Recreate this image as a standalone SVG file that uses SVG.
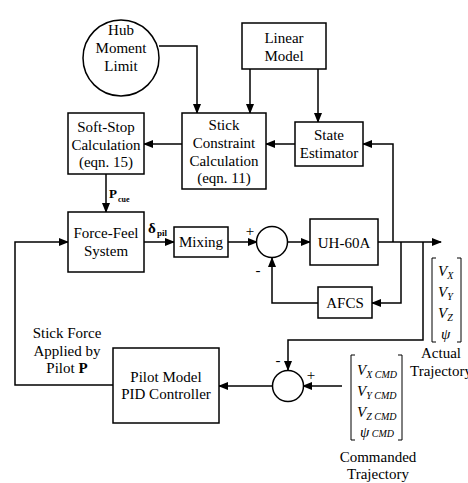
<svg xmlns="http://www.w3.org/2000/svg" width="468" height="483" viewBox="0 0 468 483" font-family="Liberation Serif, Times New Roman, serif" font-size="15">
<defs>
<marker id="ah" markerWidth="10" markerHeight="8" refX="9" refY="4" orient="auto" markerUnits="userSpaceOnUse">
<path d="M0,0 L10,4 L0,8 Z" fill="#000"/>
</marker>
<style>
.box{fill:#fff;stroke:#000;stroke-width:1.5}
.t{text-anchor:middle}
.v{font-style:italic}
.s{font-size:10px}
.ca{fill:none;stroke:#000;stroke-width:1.5;marker-end:url(#ah)}
.br{fill:none;stroke:#000;stroke-width:1}
.b{font-weight:bold}
</style>
</defs>
<rect width="468" height="483" fill="#fff"/>
<g id="connectors">
<path class="ca" d="M159,46 H197 V113"/>
<path class="ca" d="M250,69 V113"/>
<path class="ca" d="M318,69 V122"/>
<path class="ca" d="M182,144 H144"/>
<path class="ca" d="M295,144 H266"/>
<path class="ca" d="M393,242 V144 H363"/>
<path class="ca" d="M106,174 V212"/>
<path class="ca" d="M144,242 H174"/>
<path class="ca" d="M228,242 H257"/>
<path class="ca" d="M288,242 H310"/>
<path class="ca" d="M378,242 H441"/>
<path class="ca" d="M401,242 V303 H372"/>
<path class="ca" d="M318,303 H272 V258"/>
<path class="ca" d="M423,242 V340 H288 V370"/>
<path class="ca" d="M342,386 H303"/>
<path class="ca" d="M272,386 H219"/>
<path class="ca" d="M113,385 H15 V242 H68"/>
</g>
<g id="hub">
<circle cx="121" cy="58" r="38" class="box"/>
<text class="t" x="121" y="35">Hub</text>
<text class="t" x="121" y="53">Moment</text>
<text class="t" x="121" y="71">Limit</text>
</g>
<g id="linear-model">
<rect class="box" x="242" y="23" width="84" height="46"/>
<text class="t" x="284" y="43">Linear</text>
<text class="t" x="284" y="61">Model</text>
</g>
<g id="soft-stop">
<rect class="box" x="68" y="113" width="76" height="61"/>
<text class="t" x="106" y="132">Soft-Stop</text>
<text class="t" x="106" y="150">Calculation</text>
<text class="t" x="106" y="167">(eqn. 15)</text>
</g>
<g id="stick-constraint">
<rect class="box" x="182" y="113" width="84" height="76"/>
<text class="t" x="224" y="130">Stick</text>
<text class="t" x="224" y="148">Constraint</text>
<text class="t" x="224" y="166">Calculation</text>
<text class="t" x="224" y="183">(eqn. 11)</text>
</g>
<g id="state-estimator">
<rect class="box" x="295" y="122" width="68" height="44"/>
<text class="t" x="329" y="140">State</text>
<text class="t" x="329" y="158">Estimator</text>
</g>
<g id="pcue-label">
<text class="b" x="109" y="198" font-size="13">P</text>
<text class="b" x="118" y="202" font-size="8">cue</text>
</g>
<g id="force-feel">
<rect class="box" x="68" y="212" width="76" height="60"/>
<text class="t" x="106" y="238">Force-Feel</text>
<text class="t" x="106" y="256">System</text>
</g>
<g id="delta-label">
<text class="b" x="148" y="233" font-size="15">δ</text>
<text class="b" x="157" y="236" font-size="9">pil</text>
</g>
<g id="mixing">
<rect class="box" x="174" y="227" width="54" height="30"/>
<text class="t" x="201" y="247">Mixing</text>
</g>
<g id="sum1">
<circle class="box" cx="272" cy="242" r="15.5"/>
<text class="t" x="250" y="236">+</text>
<text class="t" x="258" y="275">-</text>
</g>
<g id="uh60a">
<rect class="box" x="310" y="219" width="68" height="46"/>
<text class="t" x="344" y="248">UH-60A</text>
</g>
<g id="afcs">
<rect class="box" x="318" y="287" width="54" height="31"/>
<text class="t" x="345" y="308">AFCS</text>
</g>
<g id="actual-trajectory">
<path class="br" d="M436,258 H432 V342 H436 M457,258 H461 V342 H457"/>
<text class="v" x="438" y="276">V<tspan class="s" dy="3">X</tspan></text>
<text class="v" x="438" y="297">V<tspan class="s" dy="3">Y</tspan></text>
<text class="v" x="438" y="318">V<tspan class="s" dy="3">Z</tspan></text>
<text class="v" x="441" y="339">ψ</text>
<text class="t" x="441" y="358">Actual</text>
<text class="t" x="441" y="376">Trajectory</text>
</g>
<g id="sum2">
<circle class="box" cx="288" cy="386" r="15.5"/>
<text class="t" x="278" y="365">-</text>
<text class="t" x="311" y="380">+</text>
</g>
<g id="commanded-trajectory">
<path class="br" d="M355,355 H351 V440 H355 M398,355 H402 V440 H398"/>
<text class="v" x="357" y="375">V<tspan class="s" dy="3">X CMD</tspan></text>
<text class="v" x="357" y="396">V<tspan class="s" dy="3">Y CMD</tspan></text>
<text class="v" x="357" y="417">V<tspan class="s" dy="3">Z CMD</tspan></text>
<text class="v" x="360" y="437">ψ<tspan class="s"> CMD</tspan></text>
<text class="t" x="378" y="462">Commanded</text>
<text class="t" x="378" y="479">Trajectory</text>
</g>
<g id="pilot-model">
<rect class="box" x="113" y="348" width="106" height="75"/>
<text class="t" x="166" y="382">Pilot Model</text>
<text class="t" x="166" y="399">PID Controller</text>
</g>
<g id="stick-force-label">
<text class="t" x="67" y="338">Stick Force</text>
<text class="t" x="67" y="356">Applied by</text>
<text class="t" x="67" y="373">Pilot <tspan class="b">P</tspan></text>
</g>
</svg>
